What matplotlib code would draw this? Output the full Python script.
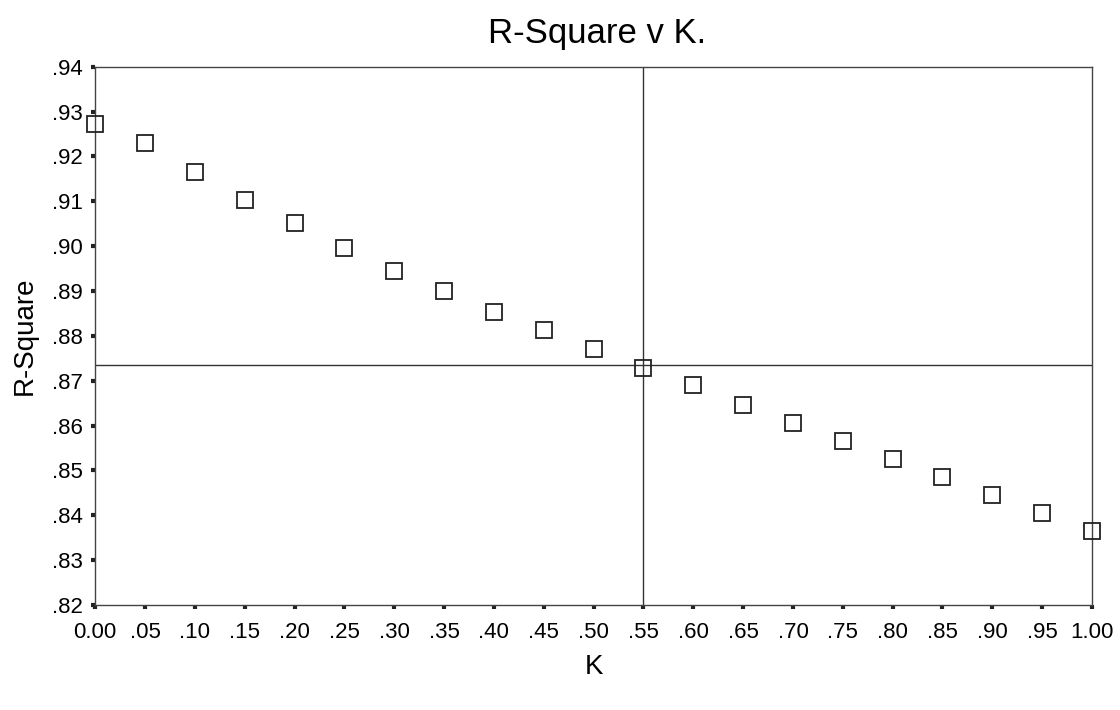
import numpy as np
import matplotlib
matplotlib.use('Agg')
import matplotlib.pyplot as plt

plt.rcParams['font.family'] = ['Liberation Sans', 'DejaVu Sans']

# data
k_values = [0.00, 0.05, 0.10, 0.15, 0.20, 0.25, 0.30, 0.35, 0.40, 0.45, 0.50,
            0.55, 0.60, 0.65, 0.70, 0.75, 0.80, 0.85, 0.90, 0.95, 1.00]
r_square = [0.9273, 0.9230, 0.9166, 0.9103, 0.9052, 0.8996, 0.8945, 0.8900,
            0.8854, 0.8813, 0.8771, 0.8729, 0.8691, 0.8646, 0.8606, 0.8566,
            0.8526, 0.8486, 0.8445, 0.8405, 0.8365]
ref_k = 0.55
ref_r = 0.8735

x_ticks = [0.00, 0.05, 0.10, 0.15, 0.20, 0.25, 0.30, 0.35, 0.40, 0.45, 0.50,
           0.55, 0.60, 0.65, 0.70, 0.75, 0.80, 0.85, 0.90, 0.95, 1.00]
x_labels = ['0.00', '.05', '.10', '.15', '.20', '.25', '.30', '.35', '.40', '.45', '.50',
            '.55', '.60', '.65', '.70', '.75', '.80', '.85', '.90', '.95', '1.00']
y_ticks = [0.82, 0.83, 0.84, 0.85, 0.86, 0.87, 0.88, 0.89, 0.90, 0.91, 0.92, 0.93, 0.94]
y_labels = ['.82', '.83', '.84', '.85', '.86', '.87', '.88', '.89', '.90', '.91', '.92', '.93', '.94']

fig = plt.figure(figsize=(11.2, 7.1), dpi=100)
ax = fig.add_axes([0.085, 0.148, 0.89, 0.758])

ax.axhline(ref_r, color='#333333', lw=1.0, zorder=1)
ax.axvline(ref_k, color='#333333', lw=1.0, zorder=1)
ax.plot(k_values, r_square, 's', ms=11.5, mfc='none', mec='#222222', mew=1.3,
        clip_on=False, zorder=3)

ax.set_xlim(0.0, 1.0)
ax.set_ylim(0.82, 0.94)
ax.set_xticks(x_ticks)
ax.set_xticklabels(x_labels)
ax.set_yticks(y_ticks)
ax.set_yticklabels(y_labels)
ax.tick_params(direction='out', length=3, width=3, color='#222222',
               labelsize=16, pad=6)
ax.tick_params(axis='x', pad=9)

for s in ax.spines.values():
    s.set_color('#444444')
    s.set_linewidth(1.0)

ax.set_xlabel('K', fontsize=20, labelpad=8)
ax.set_ylabel('R-Square', fontsize=20, labelpad=10)
fig.text(0.533, 0.953, 'R-Square v K.', fontsize=25, ha='center', va='center')

fig.savefig('out.png', dpi=100, facecolor='white')
